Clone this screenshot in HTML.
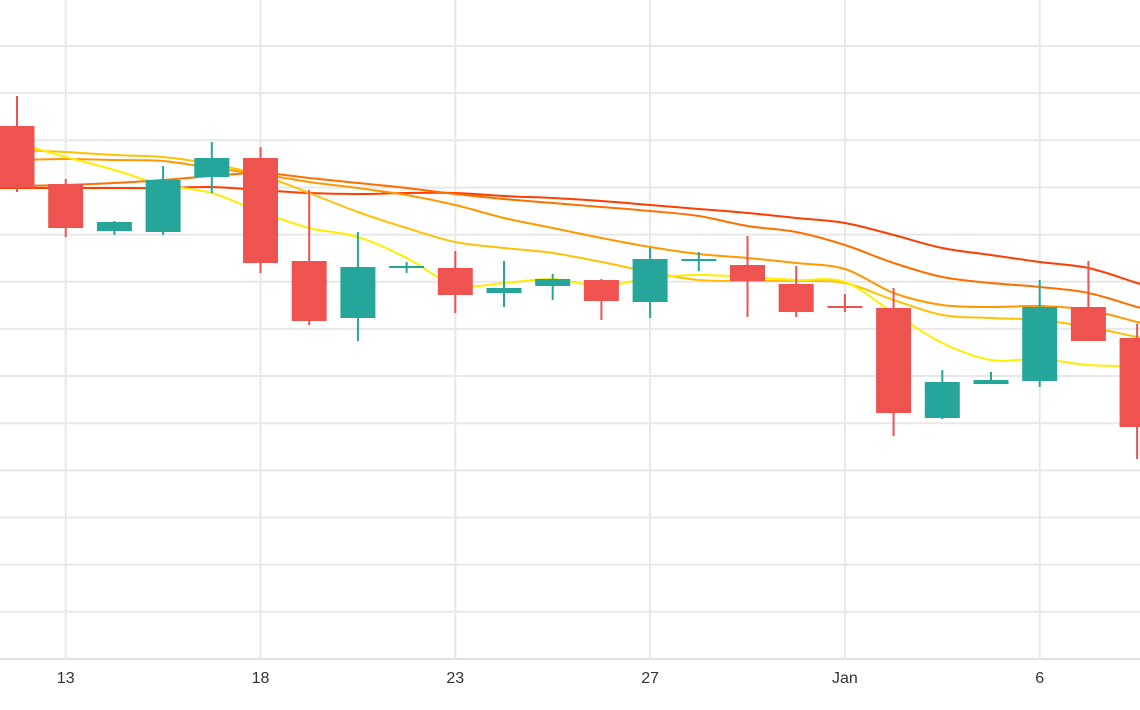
<!DOCTYPE html>
<html><head><meta charset="utf-8"><style>
html,body{margin:0;padding:0;background:#fff;}
svg{display:block;font-family:"Liberation Sans",sans-serif;}
</style></head><body>
<svg id="chart" width="1140" height="710" viewBox="0 0 1140 710" xmlns="http://www.w3.org/2000/svg">
<g id="grid"></g>
<g id="lines"></g>
<g id="candles"></g>
<g id="xaxis"></g>
</svg>
<script>
const opens  = [57.4,51.6,46.9,46.8,52.3,54.2,43.9,38.2,43.3,43.2,40.7,41.4,42.0,39.8,44.0,43.5,41.6,39.4,39.2,28.2,31.6,31.9,39.3,36.2];
const highs  = [60.4,52.1,47.9,53.4,55.8,55.3,51.0,46.8,43.8,44.9,43.9,42.6,42.1,45.2,44.8,46.4,43.4,40.6,41.2,33.0,32.8,42.0,43.9,37.6];
const lows   = [50.8,46.3,46.5,46.5,50.7,42.7,37.5,35.9,42.7,38.7,39.3,40.0,38.0,38.2,42.9,38.3,38.3,38.8,26.4,28.1,31.6,31.3,35.9,24.1];
const closes = [51.2,47.2,47.8,52.0,54.2,43.7,37.9,43.3,43.4,40.5,41.2,42.1,39.9,44.1,44.1,41.9,38.8,39.3,28.7,31.8,32.0,39.3,35.9,27.3];
const maYellow = [55.7,54.3,53.0,51.5,50.7,48.8,47.2,46.3,44.2,41.5,41.7,42.1,41.4,42.2,42.5,42.3,42.0,41.8,38.7,35.7,34.0,34.1,33.5,33.4];
const maGold   = [55.0,54.8,54.5,54.3,53.6,52.5,50.7,48.8,47.2,45.8,45.2,44.7,43.8,42.8,42.0,41.9,41.9,41.7,40.0,38.5,38.2,38.0,37.3,36.3];
const maAmber  = [54.0,54.1,54.0,53.9,53.2,52.6,51.8,51.2,50.5,49.5,48.2,47.2,46.2,45.3,44.6,44.2,43.7,43.1,40.7,39.5,39.3,39.4,39.0,37.8];
const maOrange = [51.4,51.5,51.7,52.0,52.4,52.7,52.2,51.7,51.2,50.6,50.1,49.7,49.3,48.9,48.4,47.4,46.8,45.5,43.7,42.3,41.7,41.3,40.7,39.3];
const maRed    = [51.2,51.2,51.2,51.2,51.3,51.0,50.7,50.6,50.7,50.7,50.4,50.2,49.9,49.5,49.1,48.7,48.2,47.7,46.5,45.2,44.5,43.8,43.2,41.7];
const tickIndex = [1,5,9,13,17,21];
const tickLabels = ["13","18","23","27","Jan","6"];

const NS="http://www.w3.org/2000/svg";
const X0=17, STEP=48.7, BODY=35;
function xScale(i){return X0+i*STEP;}
function yScale(p){return 700-10*p;}
function mk(tag,attrs,parent){const e=document.createElementNS(NS,tag);for(const k in attrs)e.setAttribute(k,attrs[k]);parent.appendChild(e);return e;}

const grid=document.getElementById('grid');
for(let k=0;k<14;k++){
  const p=65.4-4.715*k; const y=yScale(p);
  const l=mk('line',{x1:0,x2:1140,y1:y,y2:y,stroke:k===13?'#e0e0e0':'#e8e8e8','stroke-width':2},grid);
  
  
}
tickIndex.forEach((ti,j)=>{
  const x=xScale(ti);
  const l=mk('line',{x1:x,x2:x,y1:0,y2:660,stroke:'#e8e8e8','stroke-width':2},grid);
  
  
  const t=mk('text',{x:x,y:683,'text-anchor':'middle','font-size':16,fill:'#333'},document.getElementById('xaxis'));
  t.textContent=tickLabels[j];
  
  
});

function smoothPath(vals){
  const pts=vals.map((v,i)=>[xScale(i),yScale(v)]);
  const first=[2*pts[0][0]-pts[1][0],2*pts[0][1]-pts[1][1]];
  const last=[2*pts[pts.length-1][0]-pts[pts.length-2][0],2*pts[pts.length-1][1]-pts[pts.length-2][1]];
  const P=[first,...pts,last];
  let d='M'+P[0][0]+','+P[0][1];
  for(let i=0;i<P.length-1;i++){
    const p0=P[Math.max(0,i-1)],p1=P[i],p2=P[i+1],p3=P[Math.min(P.length-1,i+2)];
    const c1=[p1[0]+(p2[0]-p0[0])/6,p1[1]+(p2[1]-p0[1])/6];
    const c2=[p2[0]-(p3[0]-p1[0])/6,p2[1]-(p3[1]-p1[1])/6];
    d+=' C'+c1[0]+','+c1[1]+' '+c2[0]+','+c2[1]+' '+p2[0]+','+p2[1];
  }
  return d;
}
const lg=document.getElementById('lines');
[[maRed,'#ff3d00','ma-line-red'],[maOrange,'#ff6f00','ma-line-orange'],[maAmber,'#ff9800','ma-line-amber'],[maGold,'#ffc107','ma-line-gold'],[maYellow,'#ffee00','ma-line-yellow']].forEach(s=>{
  const p=mk('path',{d:smoothPath(s[0]),fill:'none',stroke:s[1],'stroke-width':2},lg);
  
  
});

const cg=document.getElementById('candles');
opens.forEach((o,i)=>{
  const c=closes[i]; const up=c>=o; const col=up?'#26a69a':'#ef5350';
  const x=xScale(i);
  const g=mk('g',{},cg);
  
  
  mk('line',{x1:x,x2:x,y1:yScale(highs[i]),y2:yScale(lows[i]),stroke:col,'stroke-width':2},g);
  const top=yScale(Math.max(o,c)), bot=yScale(Math.min(o,c));
  mk('rect',{x:x-BODY/2,y:top,width:BODY,height:Math.max(2,bot-top),fill:col},g);
});
</script>
</body></html>
